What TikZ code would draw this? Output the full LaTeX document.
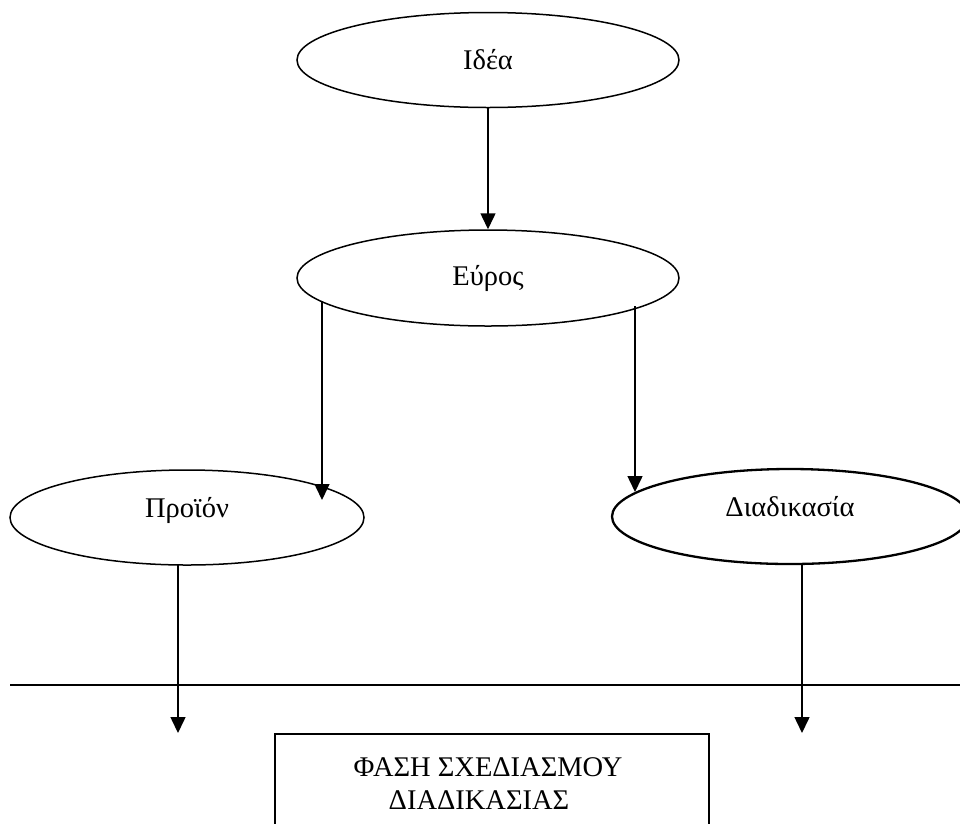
\documentclass[tikz,border=0pt]{standalone}
\usepackage{fontspec}
\setmainfont{Liberation Serif}
\usetikzlibrary{shapes.geometric,arrows.meta,calc}
\begin{document}
\begin{tikzpicture}[x=1pt,y=-1pt,
  every node/.style={font=\fontsize{28.5}{33}\selectfont},
  oval/.style={ellipse,draw,line width=1.5pt,inner sep=0pt},
  raised/.style={text height=20pt,text depth=20pt},
  arr/.style={line width=1.5pt,-{Triangle[width=15pt,length=16pt]}},
  plain/.style={line width=1.5pt}]
\useasboundingbox (0,0) rectangle (960,823);

% ovals
\node[oval,minimum width=382pt,minimum height=95pt] (idea) at (488,60) {Ιδέα};
\node[oval,minimum width=382pt,minimum height=96pt] (evros) at (488,278) {Εύρος};
\node[oval,raised,minimum width=354pt,minimum height=95pt] (proion) at (187,517.5) {Προϊόν};
\node[oval,raised,line width=2.3pt,minimum width=356pt,minimum height=95pt] (diad) at (790,516.5) {Διαδικασία};

% phase box, bottom edge outside the page
\node[draw,line width=1.5pt,minimum width=434pt,minimum height=120pt,anchor=north west,inner sep=0pt] (phase) at (274,733) {};
\node (phaseA) at (488,767) {ΦΑΣΗ ΣΧΕΔΙΑΣΜΟΥ};
\node (phaseB) at (479,800) {ΔΙΑΔΙΚΑΣΙΑΣ};

% separating line
\coordinate (sepL) at (10,685);
\coordinate (sepR) at (960,685);
\draw[plain] (sepL) -- (sepR);

% arrows
\draw[arr] (idea.south) -- (evros.north);
\draw[arr] ($(evros.center)+(-166,24)$) -- ($(proion.center)+(135,-17.5)$);
\draw[arr] ($(evros.center)+(147,28)$) -- ($(diad.center)+(-155,-24.5)$);
\coordinate (downL) at (178,733);
\coordinate (downR) at (802,733);
\draw[arr] ($(proion.center)+(-9,47.5)$) -- (downL);
\draw[arr] ($(diad.center)+(12,47.5)$) -- (downR);
\end{tikzpicture}
\end{document}
